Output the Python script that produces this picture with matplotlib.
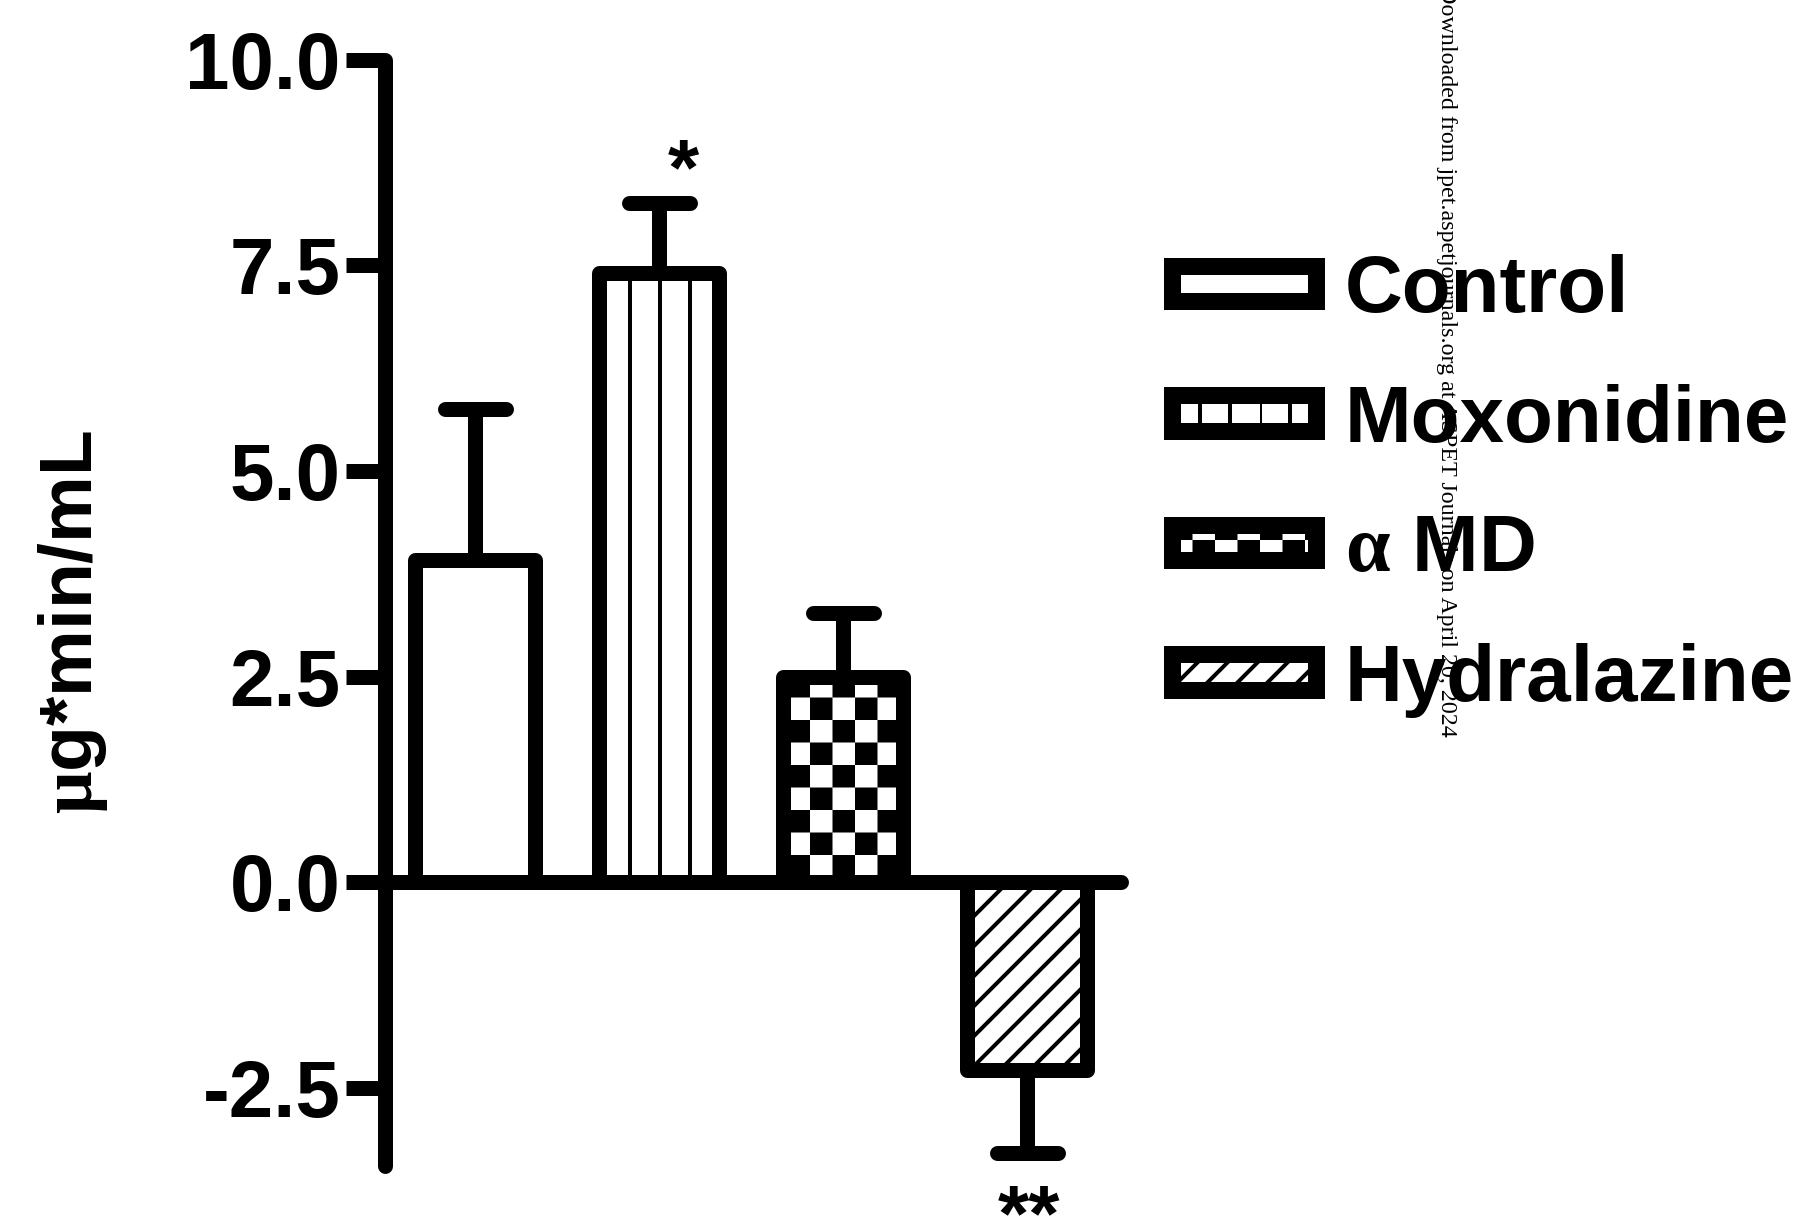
import numpy as np
import matplotlib
matplotlib.use('Agg')
import matplotlib.pyplot as plt
import matplotlib.hatch as mhatch
from matplotlib.path import Path
from matplotlib.markers import MarkerStyle

# ---------------- data ----------------
groups = ['Control', 'Moxonidine', r'$\mathrm{\alpha}$ MD', 'Hydralazine']
means = [3.92, 7.41, 2.50, -2.28]
errors = [1.83, 0.85, 0.77, 1.01]
hatches = ['', '|', '.', '//']
sig_labels = ['', '*', '', '**']
sig_y = [None, 8.37, None, -4.35]
sig_dx = [0.0, 0.13, 0.0, 0.01]
yticks = [-2.5, 0.0, 2.5, 5.0, 7.5, 10.0]
ytick_labels = ['-2.5', '0.0', '2.5', '5.0', '7.5', '10.0']
ylabel = r'$\mathrm{\mu}$g*min/mL'
watermark = 'Downloaded from jpet.aspetjournals.org at ASPET Journals on April 20, 2024'

# ---------------- style ----------------
DPI = 180
W, H = 1804, 1218
plt.rcParams['font.family'] = ['Liberation Sans', 'DejaVu Sans']
plt.rcParams['font.weight'] = 'bold'
plt.rcParams['mathtext.fontset'] = 'custom'
plt.rcParams['mathtext.rm'] = 'Liberation Serif'
plt.rcParams['mathtext.it'] = 'Liberation Serif:italic'
plt.rcParams['mathtext.bf'] = 'Liberation Serif:bold'
HATCH_LW = 1.6
plt.rcParams['hatch.linewidth'] = HATCH_LW
plt.rcParams['hatch.color'] = 'black'


# checkerboard hatch (used for the '.' hatch character)
class CheckerHatch(mhatch.HatchPatternBase):
    cells = 8

    def __init__(self, hatch, density):
        n = self.cells
        self.num_sets = 1 if hatch.count('.') else 0
        self.num_vertices = self.num_sets * (n * n // 2) * 5

    def set_vertices_and_codes(self, vertices, codes):
        n = self.cells
        shrink = HATCH_LW * DPI / 72.0 / DPI
        half = 0.5 * (1.0 / n - shrink)
        k = 0
        for i in range(n):
            for j in range(n):
                if (i + j) % 2 == 0:
                    cx, cy = (i + 0.5) / n, (j + 0.5) / n
                    vertices[k:k + 5] = [[cx - half, cy - half], [cx + half, cy - half],
                                         [cx + half, cy + half], [cx - half, cy + half],
                                         [cx - half, cy - half]]
                    codes[k:k + 5] = [Path.MOVETO, Path.LINETO, Path.LINETO,
                                      Path.LINETO, Path.CLOSEPOLY]
                    k += 5


# vertical hatch with lines on the tile edges (phase as in the original figure)
class VerticalHatchEdge(mhatch.HatchPatternBase):
    def __init__(self, hatch, density):
        self.num_lines = int((hatch.count('|') + hatch.count('+')) * density)
        self.num_vertices = self.num_lines * 2

    def set_vertices_and_codes(self, vertices, codes):
        steps = np.linspace(0.0, 1.0, self.num_lines, False)
        vertices[0::2, 0] = steps
        vertices[0::2, 1] = 0.0
        vertices[1::2, 0] = steps
        vertices[1::2, 1] = 1.0
        codes[0::2] = Path.MOVETO
        codes[1::2] = Path.LINETO


_types = mhatch._hatch_types
_types[_types.index(mhatch.SmallFilledCircles)] = CheckerHatch
_types[_types.index(mhatch.VerticalHatch)] = VerticalHatchEdge

fig = plt.figure(figsize=(W / DPI, H / DPI), dpi=DPI)
fig.patch.set_facecolor('white')

ylim = (-3.45, 10.0)
xlim = (-0.493, 3.51)
left_px = 384.5
right_px = left_px + (xlim[1] - xlim[0]) * 184.0
top_px, bot_px = 59.8, 1166.2
ax = fig.add_axes([left_px / W, 1 - bot_px / H, (right_px - left_px) / W, (bot_px - top_px) / H])
ax.set_xlim(*xlim)
ax.set_ylim(*ylim)

LW = 6
x = np.arange(len(groups))
bars = ax.bar(x, means, width=0.655, color='white', edgecolor='black',
              linewidth=LW, zorder=2)
for b, h in zip(bars.patches, hatches):
    b.set_hatch(h)
    b.set_joinstyle('round')

lower = [0 if m > 0 else e for m, e in zip(means, errors)]
upper = [e if m > 0 else 0 for m, e in zip(means, errors)]
eb = ax.errorbar(x, means, yerr=[lower, upper], fmt='none', ecolor='black',
                 elinewidth=LW, capsize=12.2, capthick=LW, zorder=3)
for cl in eb[1]:
    cl.set_marker(MarkerStyle('_', capstyle='round'))
    cl.set_markersize(24.4)
    cl.set_markeredgewidth(LW)

for i, (s, yy, dx) in enumerate(zip(sig_labels, sig_y, sig_dx)):
    if s:
        ax.text(i + dx, yy, s, ha='center', va='baseline', fontsize=32,
                fontweight='bold', clip_on=False, zorder=4)

# axes styling
for sp in ['top', 'right']:
    ax.spines[sp].set_visible(False)
ax.spines['bottom'].set_position(('data', 0))
for sp in ['left', 'bottom']:
    ax.spines[sp].set_linewidth(LW)
    ax.spines[sp].set_capstyle('round')
    ax.spines[sp].set_zorder(5)
ax.set_xticks([])
ax.set_yticks(yticks)
ax.set_yticklabels(ytick_labels)
ax.tick_params(axis='y', length=15.5, width=LW, pad=2, labelsize=32, direction='out')
for lab in ax.get_yticklabels():
    lab.set_fontweight('bold')

fig.text(92 / W, 1 - 622 / H, ylabel, rotation=90, rotation_mode='anchor',
         ha='center', va='baseline', fontsize=30, fontweight='bold')

leg = ax.legend(list(bars.patches), groups, loc='center left',
                bbox_to_anchor=(1172 / W, 1 - 486 / H), bbox_transform=fig.transFigure,
                frameon=False, prop=dict(family='Liberation Sans', weight='bold', size=32),
                handlelength=1.8, handleheight=0.306, handletextpad=0.36,
                labelspacing=0.68, borderpad=0, borderaxespad=0)
for p in leg.get_patches():
    p.set_linewidth(6.8)

fig.text(1447 / W, 1 + 14 / H, watermark, rotation=270, ha='center', va='top',
         fontsize=9.6, family='Liberation Serif', fontweight='normal', color='black')

fig.savefig('out.png', dpi=DPI, facecolor='white')
